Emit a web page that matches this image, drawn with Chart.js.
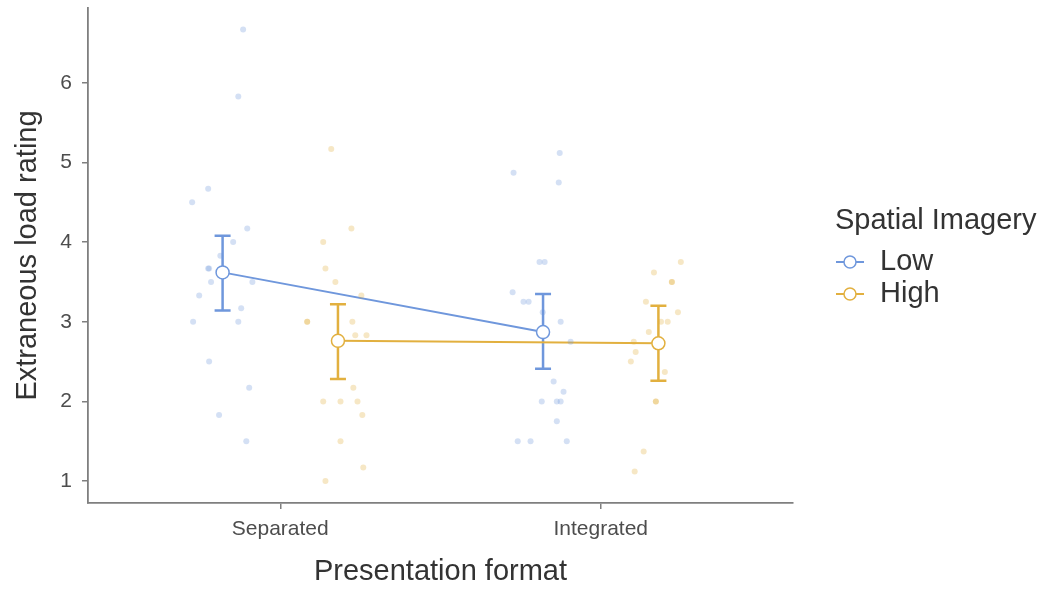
<!DOCTYPE html>
<html>
<head>
<meta charset="utf-8">
<style>
  html, body { margin: 0; padding: 0; background: #fff; }
  #wrap { position: relative; width: 1046px; height: 589px; }
</style>
<script src="https://cdn.jsdelivr.net/npm/chart.js@4.4.0/dist/chart.umd.min.js"></script>
</head>
<body>
<div id="wrap"><canvas id="c" width="1046" height="589"></canvas></div>
<script>
// categories and groups
const categories = ['Separated', 'Integrated'];
const groups = ['Low', 'High'];
const yTicks = [1, 2, 3, 4, 5, 6];

// group means and error bar ends (per category)
const lowMean = [3.62, 2.87];
const lowUpper = [4.08, 3.35];
const lowLower = [3.14, 2.41];
const highMean = [2.76, 2.73];
const highUpper = [3.22, 3.20];
const highLower = [2.28, 2.26];

// individual ratings (jittered x)
const lowSepX = [0.884, 0.869, 0.775, 0.725, 0.897, 0.853, 0.813, 0.775, 0.778, 0.784, 0.913, 0.747, 0.878, 0.728, 0.869, 0.778, 0.903, 0.809, 0.894];
const lowSepY = [6.67, 5.83, 4.67, 4.5, 4.17, 4.0, 3.83, 3.67, 3.67, 3.5, 3.5, 3.33, 3.17, 3.0, 3.0, 2.5, 2.17, 1.83, 1.5];
const highSepX = [1.159, 1.222, 1.134, 1.141, 1.172, 1.253, 1.084, 1.084, 1.225, 1.234, 1.269, 1.228, 1.134, 1.188, 1.241, 1.256, 1.188, 1.259, 1.141];
const highSepY = [5.17, 4.17, 4.0, 3.67, 3.5, 3.33, 3.0, 3.0, 3.0, 2.83, 2.83, 2.17, 2.0, 2.0, 2.0, 1.83, 1.5, 1.17, 1.0];
const lowIntX = [1.872, 1.728, 1.869, 1.809, 1.825, 1.725, 1.759, 1.775, 1.819, 1.875, 1.906, 1.853, 1.884, 1.816, 1.863, 1.875, 1.863, 1.741, 1.781, 1.894];
const lowIntY = [5.12, 4.87, 4.75, 3.75, 3.75, 3.37, 3.25, 3.25, 3.12, 3.0, 2.75, 2.25, 2.12, 2.0, 2.0, 2.0, 1.75, 1.5, 1.5, 1.5];
const highIntX = [2.25, 2.166, 2.222, 2.222, 2.141, 2.241, 2.188, 2.209, 2.15, 2.103, 2.109, 2.094, 2.2, 2.172, 2.172, 2.134, 2.106];
const highIntY = [3.75, 3.62, 3.5, 3.5, 3.25, 3.12, 3.0, 3.0, 2.87, 2.75, 2.62, 2.5, 2.37, 2.0, 2.0, 1.37, 1.12];

const DODGE = 0.18;
const LOW_COL = '#6f97dc';
const HIGH_COL = '#e2b03f';
const LOW_PT = 'rgba(111,151,220,0.3)';
const HIGH_PT = 'rgba(226,176,63,0.3)';
const FONT = '"Liberation Sans", Arial, sans-serif';

function pts(xs, ys){ return xs.map((x, i) => ({ x, y: ys[i] })); }
function meanPts(means, off){ return means.map((m, i) => ({ x: i + 1 + off, y: m })); }

const lowPoints = pts(lowSepX, lowSepY).concat(pts(lowIntX, lowIntY));
const highPoints = pts(highSepX, highSepY).concat(pts(highIntX, highIntY));

// error bars, drawn through the scales
const errorBars = {
  id: 'errorBars',
  beforeDatasetsDraw(chart){
    const { ctx, scales: { x, y } } = chart;
    const sets = [
      { mean: lowMean, up: lowUpper, lo: lowLower, off: -DODGE, col: LOW_COL },
      { mean: highMean, up: highUpper, lo: highLower, off: DODGE, col: HIGH_COL }
    ];
    ctx.save();
    sets.forEach(s => {
      ctx.strokeStyle = s.col;
      ctx.lineWidth = 2.5;
      s.mean.forEach((m, i) => {
        const px = x.getPixelForValue(i + 1 + s.off);
        const pu = y.getPixelForValue(s.up[i]);
        const pl = y.getPixelForValue(s.lo[i]);
        ctx.beginPath();
        ctx.moveTo(px, pu); ctx.lineTo(px, pl);
        ctx.moveTo(px - 8, pu); ctx.lineTo(px + 8, pu);
        ctx.moveTo(px - 8, pl); ctx.lineTo(px + 8, pl);
        ctx.stroke();
      });
    });
    ctx.restore();
  }
};

// legend on the right
const sideLegend = {
  id: 'sideLegend',
  afterDraw(chart){
    const { ctx } = chart;
    ctx.save();
    ctx.fillStyle = '#333';
    ctx.textBaseline = 'middle';
    ctx.textAlign = 'left';
    ctx.font = '29px ' + FONT;
    ctx.fillText('Spatial Imagery', 835, 221);
    const cols = [LOW_COL, HIGH_COL];
    groups.forEach((g, i) => {
      const cy = 262 + i * 32;
      ctx.strokeStyle = cols[i];
      ctx.lineWidth = 2;
      ctx.beginPath(); ctx.moveTo(836, cy); ctx.lineTo(864, cy); ctx.stroke();
      ctx.beginPath(); ctx.arc(850, cy, 6, 0, Math.PI * 2);
      ctx.fillStyle = '#fff'; ctx.fill();
      ctx.lineWidth = 1.5; ctx.stroke();
      ctx.fillStyle = '#333';
      ctx.fillText(g, 880, cy);
    });
    ctx.restore();
  }
};

new Chart(document.getElementById('c').getContext('2d'), {
  type: 'scatter',
  data: {
    datasets: [
      { label: 'Low pts', data: lowPoints, backgroundColor: LOW_PT, borderWidth: 0, pointRadius: 3, pointHoverRadius: 3 },
      { label: 'High pts', data: highPoints, backgroundColor: HIGH_PT, borderWidth: 0, pointRadius: 3, pointHoverRadius: 3 },
      { label: 'Low', data: meanPts(lowMean, -DODGE), showLine: true, borderColor: LOW_COL, borderWidth: 2,
        pointBackgroundColor: '#fff', pointBorderColor: LOW_COL, pointBorderWidth: 1.5, pointRadius: 6.5 },
      { label: 'High', data: meanPts(highMean, DODGE), showLine: true, borderColor: HIGH_COL, borderWidth: 2,
        pointBackgroundColor: '#fff', pointBorderColor: HIGH_COL, pointBorderWidth: 1.5, pointRadius: 6.5 }
    ]
  },
  options: {
    responsive: false,
    animation: false,
    events: [],
    layout: { padding: { top: 8, right: 253, left: 0, bottom: 0 } },
    plugins: { legend: { display: false }, tooltip: { enabled: false } },
    scales: {
      x: {
        type: 'linear', min: 0.4, max: 2.6,
        afterBuildTicks: s => { s.ticks = categories.map((c, i) => ({ value: i + 1 })); },
        afterFit: s => { s.height = 86; s.paddingLeft = 0; s.paddingRight = 0; },
        ticks: { callback: v => categories[v - 1], color: '#4d4d4d', font: { family: FONT, size: 21 }, padding: 8, maxRotation: 0 },
        grid: { drawOnChartArea: false, drawTicks: true, tickLength: 6, color: '#7f7f7f', lineWidth: 1.5 },
        border: { display: true, color: '#7f7f7f', width: 1.8 },
        title: { display: true, text: 'Presentation format', color: '#333', font: { family: FONT, size: 29 }, padding: { top: 0, bottom: 0 } }
      },
      y: {
        min: 0.724, max: 6.94,
        afterBuildTicks: s => { s.ticks = yTicks.map(v => ({ value: v })); },
        afterFit: s => { s.width = 88; s.paddingTop = 0; s.paddingBottom = 0; },
        ticks: { color: '#4d4d4d', font: { family: FONT, size: 21 }, padding: 10 },
        grid: { drawOnChartArea: false, drawTicks: true, tickLength: 6, color: '#7f7f7f', lineWidth: 1.5 },
        border: { display: true, color: '#7f7f7f', width: 1.8 },
        title: { display: true, text: 'Extraneous load rating', color: '#333', font: { family: FONT, size: 29 }, padding: { top: 11, bottom: 0 } }
      }
    }
  },
  plugins: [errorBars, sideLegend]
});
</script>
</body>
</html>
